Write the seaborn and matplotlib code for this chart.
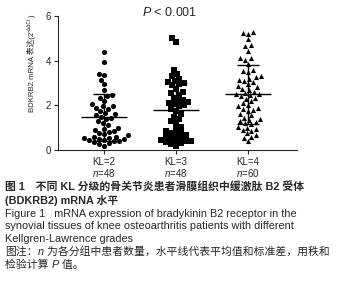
import numpy as np
import pandas as pd
import matplotlib
matplotlib.use("Agg")
import matplotlib.pyplot as plt
from matplotlib.transforms import IdentityTransform
import seaborn as sns

# values (2^-ddCt)
groups = ["KL=2", "KL=3", "KL=4"]
n_labels = ["48", "48", "60"]
markers = ["o", "s", "^"]

kl2 = [4.37, 3.96, 3.40, 3.35, 3.15, 2.95, 2.70, 2.45, 2.40, 2.35, 2.20, 2.05,
       1.95, 1.95, 1.90, 1.85, 1.75, 1.65, 1.60, 1.55, 1.50, 1.45, 1.40, 1.30,
       1.20, 1.10, 1.00, 0.95, 0.90, 0.85, 0.80, 0.75, 0.70, 0.65, 0.60, 0.60,
       0.55, 0.55, 0.50, 0.50, 0.45, 0.45, 0.40, 0.40, 0.35, 0.30, 0.25, 0.20]
kl3 = [5.00, 4.85, 3.60, 3.40, 3.30, 3.20, 3.10, 3.05, 3.00, 2.95,
       2.90, 2.75, 2.60, 2.55, 2.45, 2.35, 2.25, 2.20, 2.15, 2.10,
       2.05, 2.00, 1.95, 1.85, 1.75, 1.60, 1.50, 1.40, 1.30, 1.20,
       1.05, 0.95, 0.85, 0.80, 0.75, 0.70, 0.65, 0.60, 0.55, 0.50,
       0.45, 0.45, 0.40, 0.40, 0.35, 0.30, 0.25, 0.20]
kl4 = [5.30, 5.25, 5.20, 4.95, 4.70, 4.65, 4.45, 4.10, 4.10, 4.05,
       3.85, 3.60, 3.55, 3.50, 3.30, 3.25, 3.20, 3.15, 3.10, 3.05,
       2.95, 2.85, 2.80, 2.75, 2.70, 2.60, 2.55, 2.50, 2.50, 2.45,
       2.40, 2.35, 2.30, 2.20, 2.10, 2.00, 1.95, 1.90, 1.85, 1.80,
       1.75, 1.60, 1.55, 1.45, 1.40, 1.35, 1.30, 1.25, 1.20, 1.15,
       1.05, 1.00, 0.95, 0.90, 0.85, 0.75, 0.65, 0.60, 0.55, 0.40]

df = pd.DataFrame({
    "grade": ["KL=2"] * len(kl2) + ["KL=3"] * len(kl3) + ["KL=4"] * len(kl4),
    "value": kl2 + kl3 + kl4,
})

sns.set_style("ticks")
plt.rcParams['font.family'] = ['Liberation Sans', 'Noto Sans CJK SC']
plt.rcParams['mathtext.fontset'] = 'custom'
plt.rcParams['mathtext.it'] = 'Liberation Sans:italic'
plt.rcParams['mathtext.rm'] = 'Liberation Sans'

W, H = 347, 300
fig = plt.figure(figsize=(W / 100, H / 100), dpi=100)
ax = fig.add_axes([58 / W, 0.5, (297 - 58) / W, (150 - 16) / H])

for g, m in zip(groups, markers):
    sns.swarmplot(data=df[df.grade == g], x="grade", y="value", order=groups,
                  marker=m, color="black", size=3.7, ax=ax, warn_thresh=1)

# mean and SD lines
stats = df.groupby("grade")["value"].agg(["mean", "std"]).reindex(groups)
pos = np.arange(len(groups))
ax.hlines(stats["mean"], pos - 0.32, pos + 0.32, color="black", lw=1.0, zorder=5)
ax.errorbar(pos, stats["mean"], yerr=stats["std"], fmt="none", ecolor="black",
            elinewidth=1.0, capsize=8, capthick=1.0, zorder=5)

ax.set_ylim(0, 6)
ax.set_xlim(-0.64, 2.68)
ax.set_yticks([0, 2, 4, 6])
ax.set_xticks(pos)
ax.set_xticklabels(groups)
ax.tick_params(labelsize=7, length=3, width=0.8, pad=2)
ax.set_xlabel("")
ax.set_ylabel("")
sns.despine(ax=ax)
for s in ["left", "bottom"]:
    ax.spines[s].set_linewidth(0.8)

for p, n in zip(pos, n_labels):
    ax.text(p, (150 - 173) / 134, "$\\it{n}$=%s" % n, transform=ax.get_xaxis_transform(),
            ha="center", va="center", fontsize=7)

fig.text(170 / W, 1 - 12 / H, "$\\it{P}$ < 0.001", ha="center", va="center", fontsize=9)

renderer = fig.canvas.get_renderer()


def run_text(x, y, pieces, vertical=False):
    # draw text pieces one after another, in pixels from the top-left corner
    cx, cy = x, H - y
    for s, kw in pieces:
        kw = dict(kw)
        shift = kw.pop("shift", 0)
        if vertical:
            t = fig.text(cx - shift, cy, s, transform=IdentityTransform(), rotation=90,
                         rotation_mode="anchor", ha="left", va="baseline", **kw)
            cy += t.get_window_extent(renderer).height
        else:
            t = fig.text(cx, cy + shift, s, transform=IdentityTransform(),
                         ha="left", va="baseline", **kw)
            cx += t.get_window_extent(renderer).width


# y label
run_text(34, 112, [("BDKRB2 mRNA 表达(2", dict(fontsize=5.6)),
                   ("−ΔΔCt", dict(fontsize=3.6, shift=3)),
                   (")", dict(fontsize=5.6))], vertical=True)

# caption
cap = dict(fontsize=7.8)
capb = dict(fontsize=7.8, fontweight="bold")
capi = dict(fontsize=7.8, style="italic")
lines = [
    [("图 1　不同 KL 分级的骨关节炎患者滑膜组织中缓激肽 B2 受体", capb)],
    [("(BDKRB2) mRNA 水平", capb)],
    [("Figure 1   mRNA expression of bradykinin B2 receptor in the", cap)],
    [("synovial tissues of knee osteoarthritis patients with different", cap)],
    [("Kellgren-Lawrence grades", cap)],
    [("图注：", cap), ("n", capi), (" 为各分组中患者数量，水平线代表平均值和标准差，用秩和", cap)],
    [("检验计算 ", cap), ("P", capi), (" 值。", cap)],
]
for i, pieces in enumerate(lines):
    run_text(5, 191 + i * 12.8, pieces)

fig.savefig("out.png", dpi=100)
